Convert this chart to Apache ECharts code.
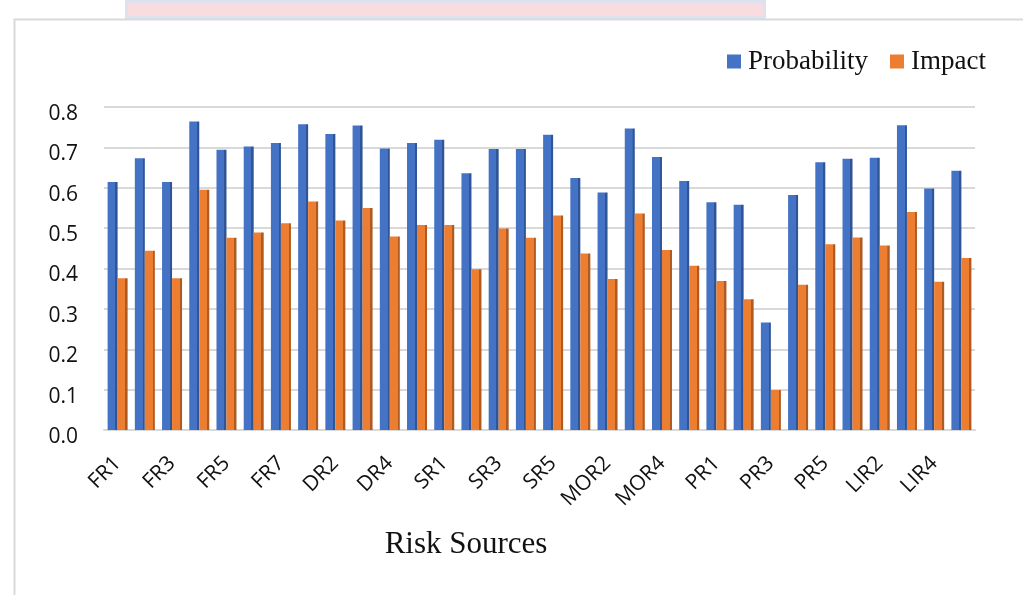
<!DOCTYPE html>
<html>
<head>
<meta charset="utf-8">
<script src="https://cdn.jsdelivr.net/npm/echarts@6/dist/echarts.min.js"></script>
<style>
html,body{margin:0;padding:0;background:#fff;}
#chart{width:1023px;height:595px;}
</style>
</head>
<body>
<div id="chart"></div>
<script>
const categories = ['FR1','FR2','FR3','FR4','FR5','FR6','FR7','DR1','DR2','DR3','DR4','DR5','SR1','SR2','SR3','SR4','SR5','MOR1','MOR2','MOR3','MOR4','MOR5','PR1','PR2','PR3','PR4','PR5','LIR1','LIR2','LIR3','LIR4','LIR5'];
const probability = [0.614,0.673,0.614,0.764,0.694,0.702,0.711,0.757,0.733,0.754,0.697,0.711,0.719,0.636,0.696,0.696,0.731,0.624,0.588,0.747,0.676,0.617,0.564,0.558,0.266,0.582,0.663,0.672,0.674,0.755,0.598,0.642];
const impact = [0.376,0.444,0.376,0.595,0.476,0.489,0.512,0.566,0.519,0.550,0.479,0.508,0.508,0.398,0.499,0.476,0.531,0.437,0.374,0.536,0.446,0.407,0.369,0.324,0.099,0.360,0.460,0.477,0.457,0.540,0.367,0.426];
const yTicks = [0,0.1,0.2,0.3,0.4,0.5,0.6,0.7,0.8];

const chart = echarts.init(document.getElementById('chart'));
function shade(main, dark) {
  return new echarts.graphic.LinearGradient(0, 0, 1, 0, [
    {offset: 0, color: main},
    {offset: 0.77, color: main},
    {offset: 0.78, color: dark},
    {offset: 1, color: dark}
  ]);
}
chart.setOption({
  backgroundColor: '#ffffff',
  animation: false,
  graphic: [
    {type: 'rect', left: 125, top: 0, shape: {width: 638, height: 16}, style: {fill: '#f8dcdf', stroke: '#dde2ee', lineWidth: 3}, z: 0},
    {type: 'rect', left: 12, top: 17, shape: {width: 1100, height: 700}, style: {fill: 'none', stroke: '#d9d9d9', lineWidth: 2}, z: 0},
    {type: 'text', position: [466, 545], style: {text: 'Risk Sources', font: '31px "Liberation Serif"', fill: '#111', textAlign: 'center', textVerticalAlign: 'middle'}}
  ],
  legend: {
    left: 722, top: 43,
    itemWidth: 14, itemHeight: 14, itemGap: 22,
    icon: 'rect',
    textStyle: {fontFamily: 'Liberation Serif', fontSize: 27, color: '#111', padding: [0,0,0,2]},
    data: [
      {name: 'Probability', itemStyle: {color: '#4472c4'}},
      {name: 'Impact', itemStyle: {color: '#ed7d31'}}
    ]
  },
  grid: {left: 104, right: 48, top: 107, bottom: 165},
  xAxis: {
    type: 'category',
    data: categories,
    axisLine: {show: true, lineStyle: {color: '#d9d9d9', width: 2}},
    axisTick: {show: false},
    axisLabel: {interval: 1, rotate: 45, fontFamily: 'Open Sans', fontSize: 21, color: '#111', margin: 30}
  },
  yAxis: {
    type: 'value',
    min: 0, max: 0.8, interval: 0.1,
    axisLine: {show: false},
    axisTick: {show: false},
    splitLine: {lineStyle: {color: '#d9d9d9', width: 2}},
    axisLabel: {
      fontFamily: 'Open Sans', fontSize: 21, color: '#111', margin: 26,
      verticalAlign: 'top', lineHeight: 14,
      formatter: v => yTicks.includes(Math.round(v*10)/10) ? v.toFixed(1) : ''
    }
  },
  series: [
    {name: 'Probability', type: 'bar', data: probability, barWidth: 10, barGap: '0%',
     itemStyle: {color: shade('#4472c4', '#2f5597')}},
    {name: 'Impact', type: 'bar', data: impact, barWidth: 10, barGap: '0%',
     itemStyle: {color: shade('#ed7d31', '#ae5a21')}}
  ]
});
</script>
</body>
</html>
